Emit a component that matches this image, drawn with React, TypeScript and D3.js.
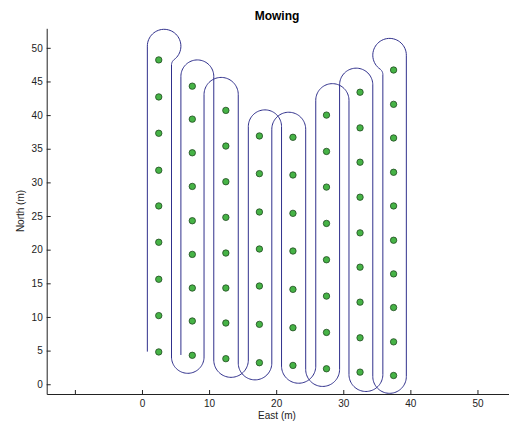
import React, { useEffect, useRef } from 'react'
import * as d3 from 'd3'

const width = 509
const height = 423

// Dot columns (east position) and their north positions
const dotEast = [2.5, 7.5, 12.5, 17.5, 22.5, 27.5, 32.5, 37.5]
const dotNorth = [
  [48.2, 42.7, 37.3, 31.8, 26.5, 21.1, 15.6, 10.2, 4.8],
  [44.3, 39.4, 34.4, 29.4, 24.3, 19.3, 14.3, 9.4, 4.3],
  [40.7, 35.4, 30.1, 24.8, 19.5, 14.3, 9.1, 3.8],
  [36.9, 31.3, 25.6, 20.1, 14.6, 8.9, 3.2],
  [36.7, 31.1, 25.4, 19.8, 14.1, 8.4, 2.8],
  [40.0, 34.6, 29.3, 23.9, 18.5, 13.1, 7.7, 2.3],
  [43.4, 38.1, 33.0, 27.8, 22.5, 17.4, 12.2, 6.9, 1.8],
  [46.7, 41.6, 36.6, 31.5, 26.5, 21.4, 16.4, 11.4, 6.3, 1.3],
]

// Mower route: legs in travel order, and the turn between each pair of legs
const legEast = [0.8, 4.4, 9.25, 14.35, 19.35, 24.4, 29.45, 34.4, 39.4, 35.9, 30.85, 25.9, 20.8, 15.85, 10.7, 5.8]
const turnType = ['keyhole', 'bottom', 'top', 'bottom', 'top', 'bottom', 'top', 'bottom', 'keyhole', 'bottom', 'top', 'bottom', 'top', 'bottom', 'top']
const turnNorth = [50.25, 4.05, 43.05, 3.15, 37.9, 2.2, 44.5, 1.15, 48.9, 1.45, 42.2, 2.7, 38.3, 3.6, 45.75]
const routeStartNorth = 4.85
const routeEndNorth = 4.35
const turnRadius = 2.5
const keyholeInner = 1.0

const xTicks = [-10, 0, 10, 20, 30, 40, 50]
const yTicks = [0, 5, 10, 15, 20, 25, 30, 35, 40, 45, 50]

function buildRoute(): [number, number][] {
  const pts: [number, number][] = [[legEast[0], routeStartNorth]]
  const n = 40
  for (let i = 0; i < turnType.length; i++) {
    const xa = legEast[i]
    const xb = legEast[i + 1]
    const cy = turnNorth[i]
    if (turnType[i] === 'keyhole') {
      const s = xb > xa ? 1 : -1
      const d = Math.abs(xb - xa)
      const R = turnRadius
      const r2 = keyholeInner
      const dx = d + r2 - R
      const dy = -Math.sqrt((R + r2) ** 2 - dx * dx)
      const phi = Math.atan2(dy, dx)
      const toX = (u: number) => xa + s * u
      // big loop, over the top
      for (let k = 0; k <= n; k++) {
        const a = Math.PI + (phi - Math.PI) * (k / n)
        pts.push([toX(R + R * Math.cos(a)), cy + R * Math.sin(a)])
      }
      // small reverse arc back onto the next leg
      const sx = d + r2
      const sy = cy + dy
      const psi0 = phi + Math.PI
      for (let k = 1; k <= n / 2; k++) {
        const a = psi0 + (Math.PI - psi0) * (k / (n / 2))
        pts.push([toX(sx + r2 * Math.cos(a)), sy + r2 * Math.sin(a)])
      }
    } else {
      const cx = (xa + xb) / 2
      const r = Math.abs(xb - xa) / 2
      let start: number
      let end: number
      if (turnType[i] === 'top') {
        start = xa < xb ? Math.PI : 0
        end = Math.PI - start
      } else {
        start = xa < xb ? -Math.PI : 0
        end = -Math.PI - start
      }
      for (let k = 0; k <= n; k++) {
        const a = start + (end - start) * (k / n)
        pts.push([cx + r * Math.cos(a), cy + r * Math.sin(a)])
      }
    }
  }
  pts.push([legEast[legEast.length - 1], routeEndNorth])
  return pts
}

export default function App() {
  const svgRef = useRef<SVGSVGElement>(null)

  useEffect(() => {
    const svg = d3.select(svgRef.current)
    svg.selectAll('*').remove()

    const x = d3.scaleLinear().domain([-14.2, 54.7]).range([46.7, 509])
    const y = d3.scaleLinear().domain([-1.45, 52.9]).range([394, 28.3])

    svg.append('rect').attr('width', width).attr('height', height).attr('fill', '#fff')

    // route line
    const line = d3
      .line<[number, number]>()
      .x((d) => x(d[0]))
      .y((d) => y(d[1]))
    svg
      .append('path')
      .datum(buildRoute())
      .attr('d', line)
      .attr('fill', 'none')
      .attr('stroke', '#30308c')
      .attr('stroke-width', 1)

    // dots
    const dots = dotEast.flatMap((e, i) => dotNorth[i].map((nv) => [e, nv]))
    svg
      .append('g')
      .selectAll('circle')
      .data(dots)
      .enter()
      .append('circle')
      .attr('cx', (d) => x(d[0]))
      .attr('cy', (d) => y(d[1]))
      .attr('r', 3.2)
      .attr('fill', '#46b346')
      .attr('stroke', '#1f4a1f')
      .attr('stroke-width', 0.8)

    const font = '"Liberation Sans", Arial, sans-serif'

    // axes
    const xAxis = d3
      .axisBottom(x)
      .tickValues(xTicks)
      .tickFormat((d) => (+d < 0 ? '' : String(d)))
      .tickSizeInner(-4)
      .tickSizeOuter(0)
      .tickPadding(6)
    const gx = svg.append('g').attr('transform', `translate(0,${y(-1.45)})`).call(xAxis)

    const yAxis = d3
      .axisLeft(y)
      .tickValues(yTicks)
      .tickSizeInner(-4)
      .tickSizeOuter(0)
      .tickPadding(4)
    const gy = svg.append('g').attr('transform', `translate(${x(-14.2)},0)`).call(yAxis)

    ;[gx, gy].forEach((g) => {
      g.select('.domain').attr('stroke', '#222')
      g.selectAll('.tick line').attr('stroke', '#222')
      g.selectAll('.tick text').attr('fill', '#222').attr('font-size', 10).attr('font-family', font)
    })

    svg
      .append('text')
      .attr('x', 277)
      .attr('y', 20)
      .attr('text-anchor', 'middle')
      .attr('font-family', font)
      .attr('font-weight', 'bold')
      .attr('font-size', 12)
      .attr('fill', '#000')
      .text('Mowing')

    svg
      .append('text')
      .attr('x', 277)
      .attr('y', 419)
      .attr('text-anchor', 'middle')
      .attr('font-family', font)
      .attr('font-size', 10)
      .attr('fill', '#222')
      .text('East (m)')

    svg
      .append('text')
      .attr('transform', 'translate(24,211) rotate(-90)')
      .attr('text-anchor', 'middle')
      .attr('font-family', font)
      .attr('font-size', 10)
      .attr('fill', '#222')
      .text('North (m)')
  }, [])

  return (
    <>
      <style>{`body{margin:0}`}</style>
      <svg ref={svgRef} width={width} height={height} style={{ display: 'block' }} />
    </>
  )
}
